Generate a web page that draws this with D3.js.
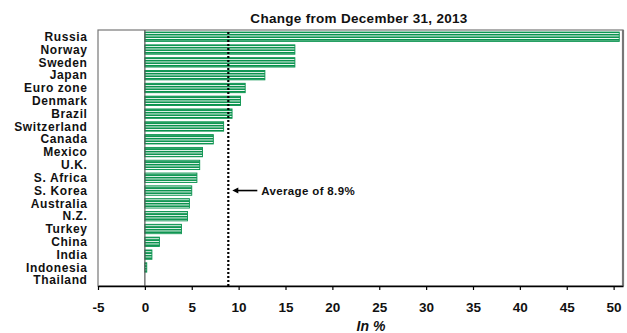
<!DOCTYPE html>
<html><head><meta charset="utf-8">
<script src="https://cdn.jsdelivr.net/npm/d3@7"></script>
<style>body{margin:0;background:#fff}svg{display:block}text{font-family:"Liberation Sans",Arial,sans-serif}</style>
</head><body><svg id="c" width="627" height="333"></svg>
<script>
const categories = ["Russia","Norway","Sweden","Japan","Euro zone","Denmark","Brazil","Switzerland","Canada","Mexico","U.K.","S. Africa","S. Korea","Australia","N.Z.","Turkey","China","India","Indonesia","Thailand"];
const values = [50.6,16.0,16.0,12.8,10.7,10.2,9.3,8.4,7.3,6.15,5.85,5.55,5.0,4.75,4.55,3.9,1.55,0.75,0.2,0.0];
const averageValue = 8.9;
const tickValues = [-5,0,5,10,15,20,25,30,35,40,45,50];
const titleText = "Change from December 31, 2013";
const axisTitle = "In %";
const avgLabel = "Average of 8.9%";

const svg = d3.select("#c");
const m = {l:98, r:623, t:30, b:286};
const x = d3.scaleLinear().domain([-5,51]).range([m.l,m.r]);
const y = d3.scaleBand().domain(categories).range([m.t,m.b]).paddingInner(0.27).paddingOuter(0.12);
const green = "#08924d";

const defs = svg.append("defs");
const pat = defs.append("pattern").attr("id","stripe").attr("patternUnits","userSpaceOnUse")
  .attr("width",4).attr("height",2.6).attr("y", 0);
pat.append("rect").attr("width",4).attr("height",2.6).attr("fill","#fff");
pat.append("rect").attr("width",4).attr("height",1.7).attr("fill",green);

// frame
svg.append("rect").attr("x",m.l).attr("y",m.t).attr("width",m.r-m.l).attr("height",m.b-m.t)
  .attr("fill","none").attr("stroke","#777").attr("stroke-width",1.2);
svg.append("line").attr("x1",m.r).attr("x2",m.r).attr("y1",m.t).attr("y2",m.b).attr("stroke","#777").attr("stroke-width",2.2);

// bars
svg.append("g").selectAll("rect").data(categories).join("rect")
  .attr("x", x(0)).attr("y", d=>y(d)+0.5)
  .attr("width", (d,i)=>Math.max(0, x(values[i])-x(0)))
  .attr("height", y.bandwidth())
  .attr("fill","url(#stripe)").attr("stroke",green).attr("stroke-width",0.9);

// zero line
svg.append("line").attr("x1",x(0)).attr("x2",x(0)).attr("y1",m.t).attr("y2",m.b).attr("stroke","#555").attr("stroke-width",1.2);

// average
svg.append("line").attr("x1",x(averageValue)).attr("x2",x(averageValue)).attr("y1",m.t+2).attr("y2",m.b)
  .attr("stroke","#000").attr("stroke-width",2.2).attr("stroke-dasharray","2,2");

// x axis
const ax = svg.append("g").attr("transform",`translate(0,${m.b})`)
  .call(d3.axisBottom(x).tickValues(tickValues).tickFormat(d=>String(d)).tickSize(4).tickPadding(12).tickSizeOuter(0));
ax.select(".domain").attr("stroke","#000").attr("stroke-width",1.5);
ax.selectAll(".tick line").attr("stroke","#000").attr("stroke-width",1.2);
ax.selectAll(".tick text").attr("font-size",13.5).attr("font-weight","bold").attr("fill","#111")
  .attr("font-family","'Liberation Sans',Arial,sans-serif");

// category labels
svg.append("g").selectAll("text").data(categories).join("text")
  .attr("x",87.5).attr("y",d=>y(d)+y.bandwidth()/2+0.5).attr("dy","0.35em")
  .attr("text-anchor","end").attr("font-size",12).attr("font-weight","bold").attr("letter-spacing","0.6px")
  .attr("fill","#111").text(d=>d);

// title
svg.append("text").attr("x",359).attr("y",23).attr("text-anchor","middle")
  .attr("font-size",13.5).attr("font-weight","bold").attr("letter-spacing","0.3px").attr("fill","#111").text(titleText);

// axis title
svg.append("text").attr("x",371).attr("y",331).attr("text-anchor","middle")
  .attr("font-size",14).attr("font-weight","bold").attr("font-style","italic").attr("fill","#111").text(axisTitle);

// annotation
const ay = y("S. Korea")+y.bandwidth()/2+0.5;
const ax0 = x(averageValue)+4;
svg.append("line").attr("x1",ax0+4).attr("x2",ax0+25).attr("y1",ay).attr("y2",ay)
  .attr("stroke","#000").attr("stroke-width",1.6);
svg.append("path").attr("d",`M${ax0},${ay} L${ax0+6},${ay-3} L${ax0+6},${ay+3} Z`).attr("fill","#000");
svg.append("text").attr("x",ax0+29).attr("y",ay).attr("dy","0.35em")
  .attr("font-size",11.5).attr("font-weight","bold").attr("letter-spacing","0.35px").attr("fill","#111").text(avgLabel);
</script></body></html>
